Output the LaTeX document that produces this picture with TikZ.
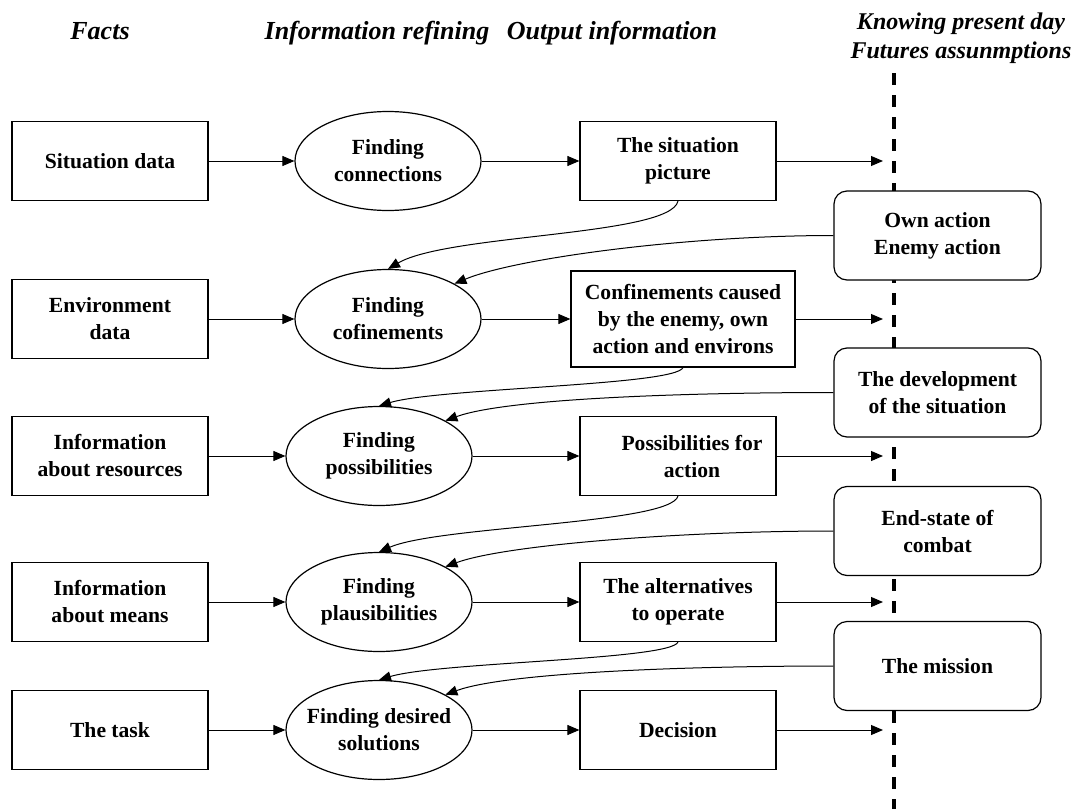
\documentclass[tikz,border=0pt]{standalone}
\usepackage{fontspec}
\setmainfont{Liberation Serif}
\usetikzlibrary{shapes.geometric, arrows.meta}
\tikzset{>={Triangle[length=6pt,width=5pt]}, % filled arrow heads
every node/.style={font=\fontsize{10.8}{13.5}\selectfont\bfseries, align=center},
fact/.style={draw, line width=0.6pt, minimum width=98pt, minimum height=39.5pt}, % input boxes
refine/.style={draw, ellipse, line width=0.6pt, minimum width=93pt, minimum height=49.5pt, inner xsep=-4pt, inner ysep=0pt},
output/.style={fact},
future/.style={draw, rounded corners=6.5pt, fill=white, line width=0.6pt, minimum width=103.5pt, minimum height=44.5pt},
head/.style={font=\fontsize{13}{14.25}\selectfont\bfseries\itshape},
link/.style={->, line width=0.5pt},
}

\begin{document}
\begin{tikzpicture}[x=0.5pt, y=0.5pt]
\useasboundingbox (0,0) rectangle (1077,-809);

% column headings
\node[head, anchor=base] (hfacts) at (100,-39) {Facts};
\node[head, anchor=base] (hrefine) at (377,-39) {Information refining};
\node[head, anchor=base] (hout) at (612,-39) {Output information};
\node[head, font=\fontsize{12}{14.25}\selectfont\bfseries\itshape] (hfuture) at (961,-38) {Knowing present day\\Futures assunmptions};

% present / future border
\coordinate (ltop) at (894,-73);
\coordinate (lbot) at (894,-809);
\draw[line width=2pt, dash pattern=on 6pt off 5pt] (ltop) -- (lbot);

\node[fact] (f1) at (110,-161) {Situation data};
\node[fact] (f2) at (110,-319) {Environment\\data};
\node[fact] (f3) at (110,-456) {Information\\about resources};
\node[fact] (f4) at (110,-602) {Information\\about means};
\node[fact] (f5) at (110,-730) {The task};

\node[refine] (e1) at (388,-161) {Finding\\connections};
\node[refine] (e2) at (388,-319) {Finding\\cofinements};
\node[refine] (e3) at (379,-456) {Finding\\possibilities};
\node[refine] (e4) at (379,-602) {Finding\\plausibilities};
\node[refine] (e5) at (379,-730) {Finding desired\\solutions};

\node[output] (o1) at (678,-161) {The situation\\picture};
\node[output, minimum width=112pt, minimum height=48pt] (o2) at (683,-319) {Confinements caused\\by the enemy, own\\action and environs};
\node[output] (o3) at (678,-456) {\hspace*{14pt}Possibilities for\\\hspace*{14pt}action};
\node[output] (o4) at (678,-602) {The alternatives\\to operate};
\node[output] (o5) at (678,-730) {Decision};

\node[future] (c1) at (937.5,-235.5) {Own action\\Enemy action};
\node[future] (c2) at (937.5,-392.5) {The development\\of the situation};
\node[future] (c3) at (937.5,-531) {End-state of\\combat};
\node[future] (c4) at (937.5,-666) {The mission};

% arrow ends in front of the border
\coordinate (d1) at (883,-161);
\coordinate (d2) at (883,-319);
\coordinate (d3) at (883,-456);
\coordinate (d4) at (883,-602);
\coordinate (d5) at (883,-730);

\draw[link] (f1) -- (e1);
\draw[link] (f2) -- (e2);
\draw[link] (f3) -- (e3);
\draw[link] (f4) -- (e4);
\draw[link] (f5) -- (e5);

\draw[link] (e1) -- (o1);
\draw[link] (e2) -- (o2);
\draw[link] (e3) -- (o3);
\draw[link] (e4) -- (o4);
\draw[link] (e5) -- (o5);

\draw[link] (o1) -- (d1);
\draw[link] (o2) -- (d2);
\draw[link] (o3) -- (d3);
\draw[link] (o4) -- (d4);
\draw[link] (o5) -- (d5);

% feedback into the next refining step
\draw[link] (o1.south) .. controls +(-8,-35) and +(60,35) .. (e2.north);
\draw[link] (c1.west) .. controls +(-150,0) and +(60,25) .. (e2.28);
\draw[link] (o2.south) .. controls +(-8,-18) and +(60,18) .. (e3.north);
\draw[link] (c2.west) .. controls +(-150,0) and +(60,22) .. (e3.28);
\draw[link] (o3.south) .. controls +(-8,-28) and +(60,26) .. (e4.north);
\draw[link] (c3.west) .. controls +(-150,0) and +(60,22) .. (e4.28);
\draw[link] (o4.south) .. controls +(-8,-18) and +(60,18) .. (e5.north);
\draw[link] (c4.west) .. controls +(-150,0) and +(60,22) .. (e5.28);

\end{tikzpicture}
\end{document}
